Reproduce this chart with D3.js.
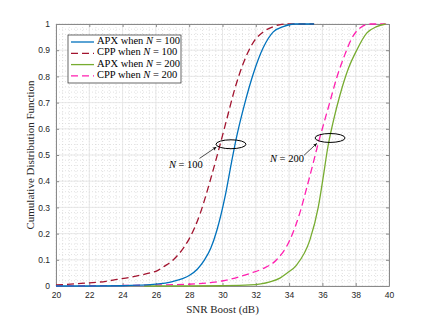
<!DOCTYPE html>
<html>
<head>
<meta charset="utf-8">
<script src="https://cdn.jsdelivr.net/npm/d3@7"></script>
<style>
  body { margin: 0; background: #fff; }
  svg { display: block; }
</style>
</head>
<body>
<div id="chart"></div>
<script>
// values
var xTicks = [20, 22, 24, 26, 28, 30, 32, 34, 36, 38, 40];
var yTicks = [0, 0.1, 0.2, 0.3, 0.4, 0.5, 0.6, 0.7, 0.8, 0.9, 1];
var yTickLabels = ["0", "0.1", "0.2", "0.3", "0.4", "0.5", "0.6", "0.7", "0.8", "0.9", "1"];

var apx100Snr = [20, 22, 24, 25, 26, 27, 27.6, 28, 28.5, 28.9, 29.3, 29.65, 30.15, 30.55, 30.85, 31.35, 31.85, 32.45, 33.05, 33.65, 34.3, 35.5];
var apx100Cdf = [0, 0, 0.001, 0.003, 0.007, 0.017, 0.028, 0.04, 0.065, 0.098, 0.145, 0.21, 0.34, 0.475, 0.57, 0.70, 0.81, 0.91, 0.97, 0.99, 1, 1];

var cpp100Snr = [20, 21.5, 23, 23.65, 24.5, 25.65, 26, 26.5, 27.05, 27.65, 28, 28.65, 29.25, 29.75, 30.25, 30.75, 31.25, 31.85, 32.45, 33.05, 33.8, 35.5];
var cpp100Cdf = [0.004, 0.01, 0.018, 0.025, 0.034, 0.05, 0.056, 0.075, 0.10, 0.145, 0.18, 0.275, 0.40, 0.515, 0.635, 0.755, 0.85, 0.93, 0.97, 0.99, 1, 1];

var apx200Snr = [25.3, 28, 30, 31.65, 32.85, 33.45, 33.85, 34.45, 35.25, 35.75, 36.06, 36.3, 36.66, 37.06, 37.56, 38.06, 38.66, 39.26, 39.8];
var apx200Cdf = [0, 0, 0.001, 0.004, 0.016, 0.03, 0.048, 0.08, 0.176, 0.30, 0.42, 0.52, 0.63, 0.73, 0.83, 0.90, 0.965, 0.99, 1];

var cpp200Snr = [20, 22, 24, 26, 27.65, 29.25, 30.05, 30.45, 31.65, 32.45, 33.25, 34.05, 34.65, 35.06, 35.45, 35.75, 36.06, 36.46, 36.86, 37.36, 37.76, 38.26, 38.9, 39.8];
var cpp200Cdf = [0, 0.001, 0.002, 0.004, 0.006, 0.013, 0.02, 0.026, 0.048, 0.067, 0.10, 0.176, 0.28, 0.375, 0.47, 0.545, 0.615, 0.705, 0.795, 0.885, 0.945, 0.985, 1, 1];

var seriesNames = ["APX when ", "CPP when ", "APX when ", "CPP when "];
var seriesN = ["100", "100", "200", "200"];

// ellipse + arrow annotations, in data units
var noteLabels = ["100", "200"];
var noteEllipseX = [30.51, 36.46];
var noteEllipseY = [0.541, 0.565];
var noteTextX = [27.8, 33.87];
var noteTextY = [0.458, 0.481];
var noteArrowFrom = [[28.62, 0.487], [34.9, 0.499]];
var noteArrowTo = [[29.62, 0.530], [35.66, 0.544]];

var margin = {top: 24, right: 41, bottom: 36, left: 56},
    width = 430 - margin.left - margin.right,
    height = 322 - margin.top - margin.bottom;

var svg = d3.select("#chart")
  .append("svg")
    .attr("width", 430)
    .attr("height", 322)
  .append("g")
    .attr("transform", "translate(" + margin.left + "," + margin.top + ")");

var x = d3.scaleLinear().domain([20, 40]).range([0, width]);
var y = d3.scaleLinear().domain([0, 1]).range([height, 0]);

// minor dotted grid
var xMinor = d3.range(20, 40.001, 0.4);
var yMinor = d3.range(0, 1.0001, 0.02);
svg.append("g").selectAll("line").data(xMinor).enter().append("line")
  .attr("x1", function(d) { return x(d); }).attr("x2", function(d) { return x(d); })
  .attr("y1", 0).attr("y2", height)
  .attr("stroke", "#cfcfcf").attr("stroke-width", 0.6).attr("stroke-dasharray", "1,2");
svg.append("g").selectAll("line").data(yMinor).enter().append("line")
  .attr("y1", function(d) { return y(d); }).attr("y2", function(d) { return y(d); })
  .attr("x1", 0).attr("x2", width)
  .attr("stroke", "#cfcfcf").attr("stroke-width", 0.6).attr("stroke-dasharray", "1,2");

// major grid
svg.append("g").selectAll("line").data(xTicks).enter().append("line")
  .attr("x1", function(d) { return x(d); }).attr("x2", function(d) { return x(d); })
  .attr("y1", 0).attr("y2", height)
  .attr("stroke", "#e3e3e3").attr("stroke-width", 0.8);
svg.append("g").selectAll("line").data(yTicks).enter().append("line")
  .attr("y1", function(d) { return y(d); }).attr("y2", function(d) { return y(d); })
  .attr("x1", 0).attr("x2", width)
  .attr("stroke", "#e3e3e3").attr("stroke-width", 0.8);

// axes, ticks inward on all four sides
function styleAxis(g) {
  g.select(".domain").attr("stroke", "#8a8a8a");
  g.selectAll(".tick line").attr("stroke", "#8a8a8a");
  g.selectAll(".tick text").attr("fill", "#262626")
    .style("font-family", "'Liberation Sans', Arial, sans-serif").style("font-size", "8.5px");
}
svg.append("g")
  .attr("transform", "translate(0," + height + ")")
  .call(d3.axisBottom(x).tickValues(xTicks).tickSizeInner(-3).tickSizeOuter(0).tickPadding(6))
  .call(styleAxis);
svg.append("g")
  .call(d3.axisLeft(y).tickValues(yTicks).tickFormat(function(d, i) { return yTickLabels[i]; })
    .tickSizeInner(-3).tickSizeOuter(0).tickPadding(6))
  .call(styleAxis);
svg.append("g")
  .call(d3.axisTop(x).tickValues(xTicks).tickSizeInner(-3).tickSizeOuter(0).tickFormat(""))
  .call(styleAxis);
svg.append("g")
  .attr("transform", "translate(" + width + ",0)")
  .call(d3.axisRight(y).tickValues(yTicks).tickSizeInner(-3).tickSizeOuter(0).tickFormat(""))
  .call(styleAxis);

// curves
var line = d3.line()
  .x(function(d) { return x(d[0]); })
  .y(function(d) { return y(d[1]); })
  .curve(d3.curveMonotoneX);

var series = [
  {snr: cpp200Snr, cdf: cpp200Cdf, color: "#ff1fb0", dash: "7,4"},
  {snr: apx200Snr, cdf: apx200Cdf, color: "#77ac30", dash: null},
  {snr: cpp100Snr, cdf: cpp100Cdf, color: "#a2142f", dash: "7,4"},
  {snr: apx100Snr, cdf: apx100Cdf, color: "#0072bd", dash: null}
];
var legendColors = ["#0072bd", "#a2142f", "#77ac30", "#ff1fb0"];
var legendDash = [null, "7,4", null, "7,4"];

series.forEach(function(s) {
  svg.append("path")
    .datum(d3.zip(s.snr, s.cdf))
    .attr("d", line)
    .attr("fill", "none")
    .attr("stroke", s.color)
    .attr("stroke-width", 1.3)
    .attr("stroke-dasharray", s.dash);
});

// annotations
var serif = "'Liberation Serif', 'Times New Roman', serif";
svg.append("defs").append("marker")
  .attr("id", "arrow")
  .attr("viewBox", "0 0 10 10")
  .attr("refX", 9).attr("refY", 5)
  .attr("markerWidth", 6).attr("markerHeight", 6)
  .attr("orient", "auto")
  .append("path").attr("d", "M0,1 L10,5 L0,9 L3,5 Z").attr("fill", "#000");

noteLabels.forEach(function(lab, i) {
  svg.append("ellipse")
    .attr("cx", x(noteEllipseX[i])).attr("cy", y(noteEllipseY[i]))
    .attr("rx", x(20.9) - x(20)).attr("ry", y(0) - y(0.017))
    .attr("fill", "none").attr("stroke", "#000").attr("stroke-width", 1);
  svg.append("line")
    .attr("x1", x(noteArrowFrom[i][0])).attr("y1", y(noteArrowFrom[i][1]))
    .attr("x2", x(noteArrowTo[i][0])).attr("y2", y(noteArrowTo[i][1]))
    .attr("stroke", "#000").attr("stroke-width", 0.7)
    .attr("marker-end", "url(#arrow)");
  var t = svg.append("text")
    .attr("x", x(noteTextX[i])).attr("y", y(noteTextY[i]))
    .attr("text-anchor", "middle").attr("dominant-baseline", "middle")
    .style("font-family", serif).style("font-size", "10.5px");
  t.append("tspan").style("font-style", "italic").text("N");
  t.append("tspan").text(" = " + lab);
});

// legend
var legend = svg.append("g").attr("transform", "translate(12,11)");
legend.append("rect")
  .attr("width", 113).attr("height", 48)
  .attr("fill", "#fff").attr("stroke", "#262626").attr("stroke-width", 0.7);
seriesNames.forEach(function(name, i) {
  var row = legend.append("g").attr("transform", "translate(0," + (7 + i * 11.3) + ")");
  row.append("line")
    .attr("x1", 3).attr("x2", 26)
    .attr("stroke", legendColors[i]).attr("stroke-width", 1.3)
    .attr("stroke-dasharray", legendDash[i]);
  var t = row.append("text")
    .attr("x", 29).attr("y", 0).attr("dominant-baseline", "middle")
    .attr("fill", "#000")
    .style("font-family", serif).style("font-size", "10.5px");
  t.append("tspan").text(name);
  t.append("tspan").style("font-style", "italic").text("N");
  t.append("tspan").text(" = " + seriesN[i]);
});

// axis titles
svg.append("text")
  .attr("x", width / 2).attr("y", height + 27)
  .attr("text-anchor", "middle")
  .style("font-family", serif).style("font-size", "11px").attr("fill", "#262626")
  .text("SNR Boost (dB)");

svg.append("text")
  .attr("transform", "rotate(-90)")
  .attr("x", -height / 2).attr("y", -22)
  .attr("text-anchor", "middle")
  .style("font-family", serif).style("font-size", "11px").attr("fill", "#262626")
  .text("Cumulative Distribution Function");
</script>
</body>
</html>
